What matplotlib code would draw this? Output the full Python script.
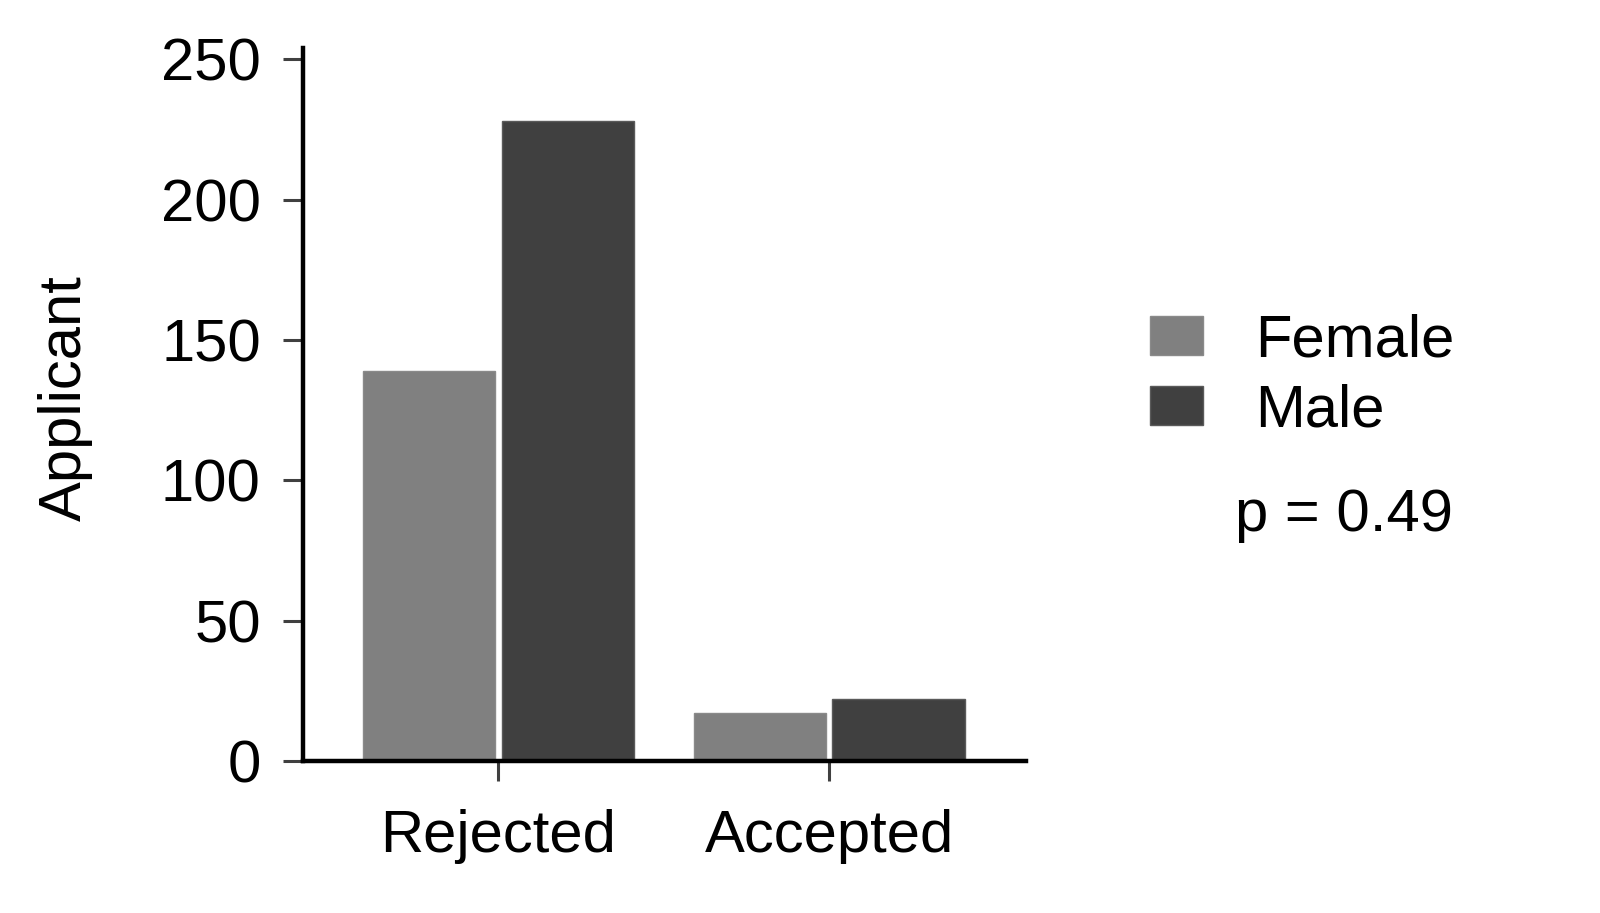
import numpy as np
import matplotlib
matplotlib.use("Agg")
import matplotlib.pyplot as plt

# ── data ──────────────────────────────────────────────────────────────
decisions = ["Rejected", "Accepted"]
female = [139, 17]
male = [228, 22]
series_labels = ["Female", "Male"]
p_text = "p = 0.49"

plt.rcParams["font.family"] = ["Liberation Sans", "DejaVu Sans"]
FS = 43

fig = plt.figure(figsize=(16, 9.13), dpi=100)
ax = fig.add_axes([0.1894, 0.1665, 0.4519, 0.7809])

x = np.arange(len(decisions))
w = 0.4
off = 0.21
ax.bar(x - off, female, width=w, color="#808080", edgecolor="#8a8a8a", lw=1, label=series_labels[0])
ax.bar(x + off, male, width=w, color="#404040", edgecolor="#5a5a5a", lw=1, label=series_labels[1])

ax.set_xlim(-0.59, 1.595)
ax.set_ylim(0, 254)
ax.set_yticks([0, 50, 100, 150, 200, 250])
ax.set_xticks(x)
ax.set_xticklabels(decisions)

for s in ("top", "right"):
    ax.spines[s].set_visible(False)
for s in ("left", "bottom"):
    ax.spines[s].set_linewidth(3.2)
    ax.spines[s].set_color("black")

ax.tick_params(axis="y", length=14.4, width=2.2, color="#404040", pad=16, labelsize=FS)
ax.tick_params(axis="x", length=14.4, width=2.2, color="#404040", pad=20, labelsize=FS)

fig.text(0.041, 0.564, "Applicant", rotation=90, ha="center", va="center", fontsize=FS)

ax.legend(loc="center left", bbox_to_anchor=(0.719, 0.5880), bbox_transform=fig.transFigure,
          frameon=False, fontsize=FS, handlelength=0.88, handleheight=0.64,
          handletextpad=0.87, labelspacing=0.25, borderpad=0, borderaxespad=0)

fig.text(0.772, 0.435, p_text, ha="left", va="center", fontsize=FS)

fig.savefig("out.png", dpi=100, facecolor="white")
